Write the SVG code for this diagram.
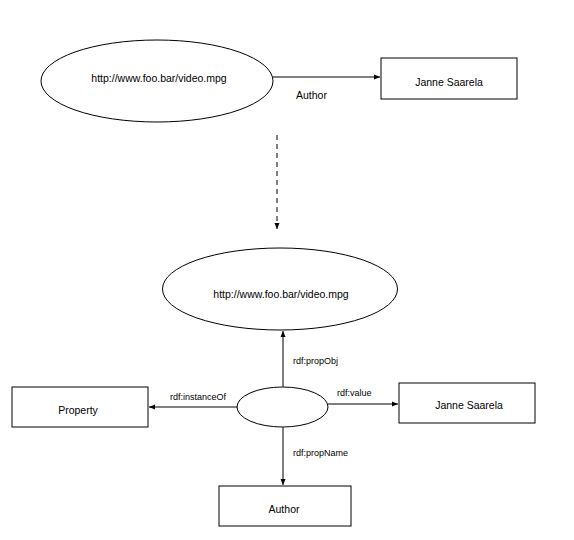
<svg xmlns="http://www.w3.org/2000/svg" width="574" height="540" viewBox="0 0 574 540">
<defs>
<marker id="ah" markerWidth="7" markerHeight="6" refX="6" refY="3" orient="auto" markerUnits="userSpaceOnUse">
<path d="M0,0.5 L6,3 L0,5.5 Z" fill="#000"/>
</marker>
</defs>
<style>
.shape{fill:#fff;stroke:#000;stroke-width:1}
.edge{fill:none;stroke:#000;stroke-width:1}
text{font-family:"Liberation Sans",Arial,sans-serif;font-size:10.5px;fill:#000}
.c{text-anchor:middle}
.lbl{font-size:9px}
</style>
<rect width="574" height="540" fill="#fff"/>
<g id="connectors">
<line class="edge" x1="273" y1="77" x2="380" y2="77" marker-end="url(#ah)"/>
<text x="296" y="99">Author</text>
<line class="edge" x1="277" y1="135" x2="277" y2="229" stroke-dasharray="5,4" marker-end="url(#ah)"/>
<line class="edge" x1="283" y1="387" x2="283" y2="331" marker-end="url(#ah)"/>
<text class="lbl" x="293" y="364">rdf:propObj</text>
<line class="edge" x1="237" y1="407" x2="149" y2="407" marker-end="url(#ah)"/>
<text class="lbl" x="170" y="400">rdf:instanceOf</text>
<line class="edge" x1="328" y1="404" x2="398" y2="404" marker-end="url(#ah)"/>
<text class="lbl" x="337" y="396">rdf:value</text>
<line class="edge" x1="283" y1="427" x2="283" y2="485" marker-end="url(#ah)"/>
<text class="lbl" x="293" y="456">rdf:propName</text>
</g>
<g id="n1">
<ellipse class="shape" cx="157" cy="81" rx="116" ry="41"/>
<text class="c" x="159" y="82">http://www.foo.bar/video.mpg</text>
</g>
<g id="n2">
<rect class="shape" x="381" y="58" width="136" height="41"/>
<text class="c" x="449" y="86">Janne Saarela</text>
</g>
<g id="n3">
<ellipse class="shape" cx="280" cy="289" rx="117.5" ry="41"/>
<text class="c" x="281" y="298">http://www.foo.bar/video.mpg</text>
</g>
<g id="n4">
<ellipse class="shape" cx="282.5" cy="407" rx="45.5" ry="20"/>
</g>
<g id="n5">
<rect class="shape" x="12" y="387" width="136" height="40"/>
<text class="c" x="78" y="414">Property</text>
</g>
<g id="n6">
<rect class="shape" x="399" y="383" width="136" height="40"/>
<text class="c" x="469" y="409">Janne Saarela</text>
</g>
<g id="n7">
<rect class="shape" x="219" y="486" width="132" height="40"/>
<text class="c" x="284" y="513">Author</text>
</g>
</svg>
